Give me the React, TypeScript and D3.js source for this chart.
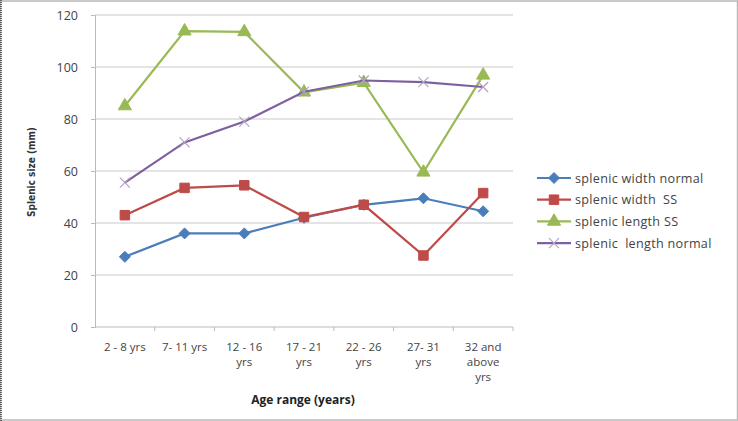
import React, { useEffect, useRef } from "react";
import { axisLeft, line, scaleBand, scaleLinear, select, symbol, symbolSquare, symbolTriangle } from "d3";

const categories = [
  ["2 - 8 yrs"],
  ["7- 11 yrs"],
  ["12 - 16", "yrs"],
  ["17 - 21", "yrs"],
  ["22 - 26", "yrs"],
  ["27- 31", "yrs"],
  ["32 and", "above", "yrs"],
];

const widthNormal = [27, 36, 36, 42, 47, 49.5, 44.5];
const widthSS = [43, 53.5, 54.5, 42.3, 47, 27.5, 51.5];
const lengthSS = [85, 113.8, 113.5, 90.3, 94, 59.5, 96.8];
const lengthNormal = [55.5, 71, 79, 90.5, 94.8, 94.2, 92.3];

const yTicks = [0, 20, 40, 60, 80, 100, 120];

const series = [
  { name: "splenic width normal", values: widthNormal, color: "#4a7ebb", marker: "diamond" },
  { name: "splenic width  SS", values: widthSS, color: "#be4b48", marker: "square" },
  { name: "splenic length SS", values: lengthSS, color: "#98b954", marker: "triangle" },
  { name: "splenic  length normal", values: lengthNormal, color: "#7d60a0", marker: "x" },
];

const W = 738;
const H = 421;
const font = "'Open Sans', 'Liberation Sans', sans-serif";

function drawMarker(g: any, kind: string, color: string, x: number, y: number) {
  if (kind === "x") {
    const s = 5;
    g.append("path")
      .attr("d", `M${x - s},${y - s}L${x + s},${y + s}M${x - s},${y + s}L${x + s},${y - s}`)
      .attr("stroke", "#b3a2c7")
      .attr("stroke-width", 1.2)
      .attr("fill", "none");
    return;
  }
  if (kind === "diamond") {
    const s = 5.5;
    g.append("path")
      .attr("d", `M${x},${y - s}L${x + s},${y}L${x},${y + s}L${x - s},${y}Z`)
      .attr("fill", color)
      .attr("stroke", color);
    return;
  }
  const type = kind === "square" ? symbolSquare : symbolTriangle;
  const size = kind === "square" ? 90 : 75;
  g.append("path")
    .attr("d", symbol().type(type).size(size)())
    .attr("transform", `translate(${x},${y})`)
    .attr("fill", color)
    .attr("stroke", color);
}

export default function App() {
  const ref = useRef<SVGSVGElement | null>(null);

  useEffect(() => {
    const svg = select(ref.current);
    svg.selectAll("*").remove();

    const left = 95;
    const right = 513;
    const top = 15;
    const bottom = 327;

    const x = scaleBand<number>().domain(categories.map((_, i) => i)).range([left, right]);
    const y = scaleLinear().domain([0, 120]).range([bottom, top]);

    // frame
    svg.append("rect").attr("x", 0.5).attr("y", 1).attr("width", W - 1).attr("height", H - 2)
      .attr("fill", "#fff").attr("stroke", "#b8b8b8").attr("stroke-width", 1.5);
    svg.append("line").attr("x1", 1).attr("x2", 1).attr("y1", 0).attr("y2", H)
      .attr("stroke", "#666").attr("stroke-width", 2).attr("stroke-dasharray", "1,1");

    // gridlines
    svg.append("g").selectAll("line").data(yTicks.filter((t) => t > 0)).join("line")
      .attr("x1", left).attr("x2", right)
      .attr("y1", (d) => y(d)).attr("y2", (d) => y(d))
      .attr("stroke", "#c9c9c9").attr("stroke-width", 1);

    // y axis
    const ya = svg.append("g").attr("transform", `translate(${left},0)`)
      .call(axisLeft(y).tickValues(yTicks).tickSize(4).tickPadding(13));
    ya.select(".domain").attr("stroke", "#bbb");
    ya.selectAll(".tick line").attr("stroke", "#bbb");
    ya.selectAll(".tick text").attr("font-family", font).attr("font-size", 12.5).attr("fill", "#444");

    // x axis
    svg.append("line").attr("x1", left).attr("x2", right).attr("y1", bottom).attr("y2", bottom)
      .attr("stroke", "#bbb");
    svg.append("g").selectAll("line").data(categories.map((_, i) => i)).join("line")
      .attr("x1", (d) => (x(d) as number) + x.bandwidth()).attr("x2", (d) => (x(d) as number) + x.bandwidth())
      .attr("y1", bottom).attr("y2", bottom + 4).attr("stroke", "#bbb");

    const xl = svg.append("g");
    categories.forEach((lines, i) => {
      const cx = (x(i) as number) + x.bandwidth() / 2;
      const t = xl.append("text").attr("x", cx).attr("y", bottom + 24)
        .attr("text-anchor", "middle").attr("font-family", font).attr("font-size", 11.5).attr("fill", "#444");
      lines.forEach((s, j) => {
        t.append("tspan").attr("x", cx).attr("dy", j === 0 ? 0 : 15).text(s);
      });
    });

    // lines and markers
    series.forEach((s) => {
      const pts = s.values.map((v, i) => [(x(i) as number) + x.bandwidth() / 2, y(v)] as [number, number]);
      svg.append("path").attr("d", line()(pts)).attr("fill", "none")
        .attr("stroke", s.color).attr("stroke-width", 2.2);
      const g = svg.append("g");
      pts.forEach(([px, py]) => drawMarker(g, s.marker, s.color, px, py));
    });

    // titles
    svg.append("text").attr("x", 303).attr("y", 404).attr("text-anchor", "middle")
      .attr("font-family", font).attr("font-size", 12).attr("font-weight", "bold").attr("fill", "#222")
      .text("Age range (years)");
    svg.append("text").attr("transform", "translate(35,172) rotate(-90)").attr("text-anchor", "middle")
      .attr("font-family", "'DejaVu Sans Condensed', 'Liberation Sans Narrow', sans-serif")
      .attr("font-size", 10).attr("font-weight", "bold").attr("fill", "#333")
      .text("Splenic size (mm)");

    // legend
    const lg = svg.append("g");
    series.forEach((s, i) => {
      const ly = 178 + i * 21.7;
      lg.append("line").attr("x1", 537).attr("x2", 571).attr("y1", ly).attr("y2", ly)
        .attr("stroke", s.color).attr("stroke-width", 2.2);
      drawMarker(lg, s.marker, s.color, 554, ly);
      lg.append("text").attr("x", 575).attr("y", ly + 4.5).attr("font-family", font)
        .attr("font-size", 12.6).attr("letter-spacing", 0.3).attr("fill", "#444")
        .attr("xml:space", "preserve").text(s.name);
    });
  }, []);

  return (
    <svg ref={ref} width={W} height={H} style={{ position: "absolute", left: 0, top: 0, display: "block" }} />
  );
}
